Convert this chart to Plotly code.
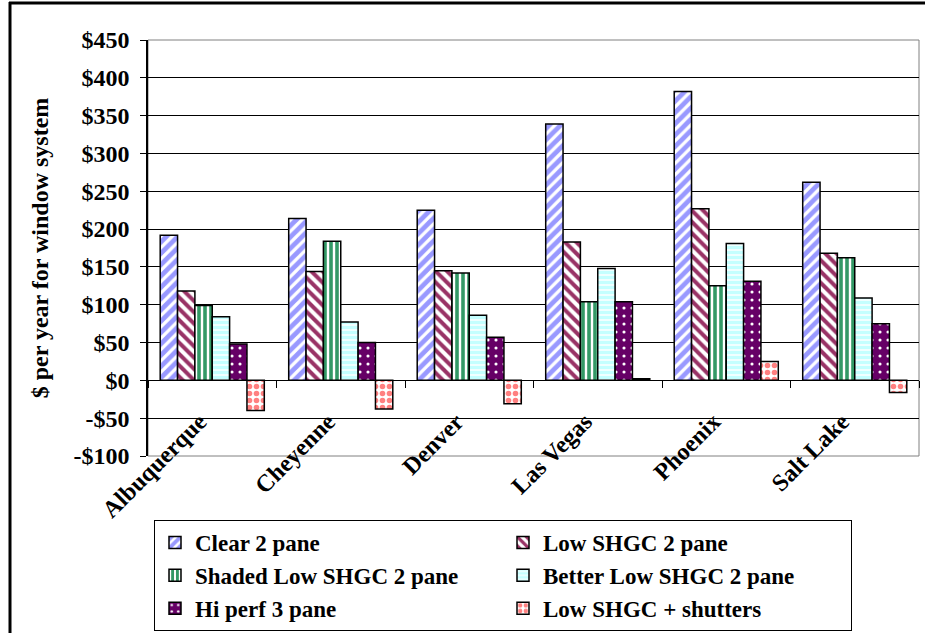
import plotly.graph_objects as go

# ---- data ----
cities = ["Albuquerque", "Cheyenne", "Denver", "Las Vegas", "Phoenix", "Salt Lake"]
series_names = ["Clear 2 pane", "Low SHGC 2 pane", "Shaded Low SHGC 2 pane",
                "Better Low SHGC 2 pane", "Hi perf 3 pane", "Low SHGC + shutters"]
clear_2_pane = [192, 214, 225, 339, 382, 262]
low_shgc_2_pane = [118, 144, 145, 183, 227, 168]
shaded_low_shgc_2_pane = [99, 184, 142, 104, 125, 162]
better_low_shgc_2_pane = [84, 77, 86, 148, 181, 109]
hi_perf_3_pane = [48, 50, 57, 104, 131, 75]
low_shgc_shutters = [-40, -38, -31, 2, 25, -16]
y_tick_values = [450, 400, 350, 300, 250, 200, 150, 100, 50, 0, -50, -100]
y_tick_labels = ["$450", "$400", "$350", "$300", "$250", "$200", "$150",
                 "$100", "$50", "$0", "-$50", "-$100"]
x_tick_labels = [c + "\u00a0\u00a0\u00a0" for c in cities]

all_series = [clear_2_pane, low_shgc_2_pane, shaded_low_shgc_2_pane,
              better_low_shgc_2_pane, hi_perf_3_pane, low_shgc_shutters]

# ---- styles ----
patterns = [
    dict(shape="/", fgcolor="#9999FF", bgcolor="white", size=8, solidity=0.6, fgopacity=1),
    dict(shape="\\", fgcolor="#993366", bgcolor="white", size=8, solidity=0.5, fgopacity=1),
    dict(shape="|", fgcolor="#339966", bgcolor="white", size=6, solidity=0.6, fgopacity=1),
    dict(shape="-", fgcolor="#C4FFFF", bgcolor="white", size=5, solidity=0.7, fgopacity=1),
    dict(shape=".", fgcolor="white", bgcolor="#660066", size=8, solidity=0.12, fgopacity=1),
    dict(shape=".", fgcolor="#FF8080", bgcolor="white", size=7, solidity=0.5, fgopacity=1),
]

FONT = "Liberation Serif"

fig = go.Figure()
for name, vals, pat in zip(series_names, all_series, patterns):
    fig.add_trace(go.Bar(
        x=cities, y=vals, name=name,
        marker=dict(color="white", pattern=pat,
                    line=dict(color="black", width=1.5)),
    ))

y_min, y_max = -100, 450
zero_pos = (0 - y_min) / (y_max - y_min)

L, R, T, B = 148, 6, 40, 177
W, H = 925, 633
pw, ph = W - L - R, H - T - B

def px_x(px):
    return (px - L) / pw

def px_y(py):
    return (H - B - py) / ph

fig.update_layout(
    width=W, height=H,
    margin=dict(l=L, r=R, t=T, b=B, autoexpand=False),
    paper_bgcolor="white", plot_bgcolor="white",
    barmode="group", bargap=0.19, bargroupgap=0,
    font=dict(family=FONT, size=24, color="black", weight="bold"),
    showlegend=True,
    legend=dict(
        orientation="h", x=px_x(154), y=px_y(520), xanchor="left", yanchor="top",
        entrywidth=303, entrywidthmode="pixels",
        bordercolor="black", borderwidth=1, bgcolor="white",
        font=dict(family=FONT, size=23, color="black", weight="bold"),
        traceorder="normal",
    ),
    xaxis=dict(
        type="category", anchor="free", position=zero_pos,
        showline=True, linecolor="black", linewidth=1,
        ticks="outside", tickson="boundaries", ticklen=7, tickcolor="black",
        showgrid=False, tickangle=-45, ticklabelstandoff=4,
        tickvals=cities, ticktext=x_tick_labels,
        tickfont=dict(family=FONT, size=24, color="black", weight="bold"),
        automargin=False,
    ),
    yaxis=dict(
        range=[y_min, y_max], tickvals=y_tick_values, ticktext=y_tick_labels,
        showline=True, linecolor="black", linewidth=1.5,
        ticks="outside", ticklen=6, tickcolor="black",
        showgrid=True, gridcolor="black", gridwidth=1, zeroline=False,
        ticklabelstandoff=6,
        tickfont=dict(family=FONT, size=24, color="black", weight="bold"),
        title=dict(text="$ per year for window system", standoff=18,
                   font=dict(family=FONT, size=24, color="black", weight="bold")),
        automargin=False,
    ),
    shapes=[
        dict(type="rect", xref="paper", yref="paper", x0=0, x1=1, y0=0, y1=1,
             line=dict(color="#808080", width=1), layer="below"),
        dict(type="line", xref="paper", yref="paper",
             x0=px_x(10), x1=px_x(10), y0=px_y(2), y1=px_y(640),
             line=dict(color="black", width=3)),
        dict(type="line", xref="paper", yref="paper",
             x0=px_x(9), x1=px_x(930), y0=px_y(3), y1=px_y(3),
             line=dict(color="black", width=3)),
    ],
)

fig.write_html(
    "out.html",
    config={"displayModeBar": False},
    post_script="document.body.style.margin='0';document.body.style.overflow='hidden';",
)
